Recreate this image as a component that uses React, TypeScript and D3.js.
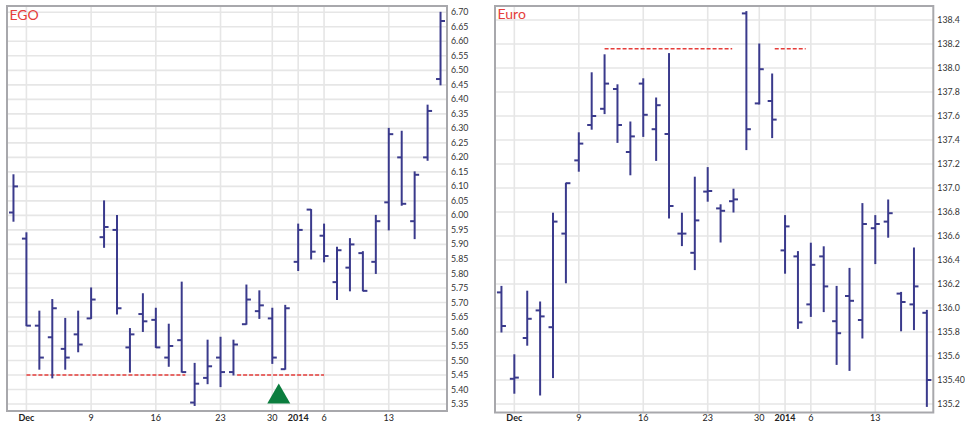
import React from "react";
import * as d3 from "d3";

// trading-day index 0 = Nov 29 ... 33 = Jan 17
const xTickIdx = [1, 6, 11, 16, 20, 22, 24, 29];
const xTickLabels = ["Dec", "9", "16", "23", "30", "2014", "6", "13"];
const boldLabels = ["Dec", "2014"];

const egoOpen = [6.01, 5.92, 5.62, 5.58, 5.54, 5.59, 5.645, 5.925, 5.95, 5.545, 5.66, 5.64, 5.51, 5.57, 5.355, 5.44, 5.51, 5.46, 5.625, 5.67, 5.645, 5.47, 5.84, 6.02, 5.93, 5.77, 5.82, 5.87, 5.84, 6.045, 6.2, 5.98, 6.2, 6.47];
const egoHigh = [6.14, 5.94, 5.67, 5.71, 5.645, 5.67, 5.75, 6.05, 6.0, 5.61, 5.73, 5.68, 5.625, 5.77, 5.49, 5.57, 5.58, 5.57, 5.76, 5.74, 5.68, 5.69, 5.97, 6.02, 5.97, 5.89, 5.92, 5.875, 6.0, 6.3, 6.29, 6.15, 6.38, 6.7];
const egoLow = [5.98, 5.62, 5.47, 5.44, 5.47, 5.53, 5.645, 5.89, 5.66, 5.46, 5.6, 5.545, 5.48, 5.46, 5.345, 5.42, 5.41, 5.45, 5.625, 5.645, 5.49, 5.47, 5.81, 5.85, 5.84, 5.71, 5.74, 5.74, 5.8, 5.95, 6.035, 5.92, 6.19, 6.45];
const egoClose = [6.1, 5.62, 5.51, 5.68, 5.51, 5.555, 5.71, 5.96, 5.68, 5.59, 5.635, 5.545, 5.55, 5.46, 5.42, 5.48, 5.46, 5.555, 5.71, 5.69, 5.51, 5.68, 5.95, 5.875, 5.86, 5.88, 5.9, 5.74, 5.98, 6.28, 6.04, 6.14, 6.36, 6.67];
const egoTicks = ["6.70", "6.65", "6.60", "6.55", "6.50", "6.45", "6.40", "6.35", "6.30", "6.25", "6.20", "6.15", "6.10", "6.05", "6.00", "5.95", "5.90", "5.85", "5.80", "5.75", "5.70", "5.65", "5.60", "5.55", "5.50", "5.45", "5.40", "5.35"];
const egoSupportValue = [5.45, 5.45];
const egoSupportFrom = [1, 17.28];
const egoSupportTo = [13.28, 24];
const egoMarkerIdx = [20.5];

const euroOpen = [136.13, 135.41, 135.75, 135.98, 135.84, 136.62, 137.23, 137.525, 137.66, 137.825, 137.3, 137.87, 137.49, 137.45, 136.62, 136.46, 136.97, 136.83, 136.89, 138.455, 137.705, 137.725, 136.48, 136.43, 136.03, 136.43, 135.89, 136.1, 135.9, 136.665, 136.72, 136.12, 136.03, 135.96];
const euroHigh = [136.18, 135.61, 136.14, 136.05, 136.79, 137.04, 137.46, 137.96, 138.11, 137.86, 137.55, 137.91, 137.75, 138.12, 136.79, 137.09, 137.17, 136.86, 136.99, 138.47, 138.2, 137.95, 136.77, 136.47, 136.54, 136.51, 136.18, 136.33, 136.87, 136.77, 136.9, 136.13, 136.5, 135.98];
const euroLow = [135.8, 135.29, 135.69, 135.275, 135.42, 136.21, 137.14, 137.49, 137.62, 137.38, 137.11, 137.43, 137.23, 136.75, 136.52, 136.32, 136.89, 136.55, 136.8, 137.32, 137.7, 137.42, 136.29, 135.83, 135.93, 135.97, 135.53, 135.48, 135.75, 136.37, 136.59, 135.81, 135.82, 135.18];
const euroClose = [135.85, 135.42, 135.91, 135.93, 136.72, 137.04, 137.37, 137.6, 137.87, 137.525, 137.43, 137.61, 137.69, 136.85, 136.62, 136.73, 136.975, 136.81, 136.905, 137.49, 137.99, 137.57, 136.68, 135.88, 136.36, 136.18, 135.79, 136.06, 136.7, 136.7, 136.79, 136.05, 136.18, 135.4];
const euroTicks = ["138.4", "138.2", "138.0", "137.8", "137.6", "137.4", "137.2", "137.0", "136.8", "136.6", "136.4", "136.2", "136.0", "135.8", "135.6", "135.40", "135.2"];
const euroSupportValue = [138.16, 138.16];
const euroSupportFrom = [8, 21.2];
const euroSupportTo = [17.9, 23.6];
const euroMarkerIdx: number[] = [];

const BAR = "#3a3a8c";
const GRID = "#e6e6e6";
const BORDER = "#a8a8ac";
const RED = "#e53d3a";
const GREEN = "#0b7d3e";
const FONT = "Lato, 'Liberation Sans', Arial, sans-serif";

type PanelProps = {
  title: string;
  left: number; right: number; top: number; bottom: number;
  yDomain: [number, number]; yRange: [number, number];
  ticks: string[];
  open: number[]; high: number[]; low: number[]; close: number[];
  supVal: number[]; supFrom: number[]; supTo: number[];
  markers: number[];
  titleY: number;
};

function Panel(p: PanelProps) {
  const n = p.open.length;
  const x = d3.scaleLinear().domain([-0.5, n - 0.5]).range([p.left, p.right]);
  const y = d3.scaleLinear().domain(p.yDomain).range(p.yRange);
  return (
    <g>
      <rect x={p.left} y={p.top} width={p.right - p.left} height={p.bottom - p.top} fill="#fff" />
      {p.ticks.map((t) => (
        <line key={"h" + t} x1={p.left} x2={p.right} y1={y(+t)} y2={y(+t)} stroke={GRID} strokeWidth={1.6} />
      ))}
      {xTickIdx.map((i) => (
        <line key={"v" + i} x1={x(i)} x2={x(i)} y1={p.top} y2={p.bottom} stroke={GRID} strokeWidth={1.6} />
      ))}
      {p.supVal.map((v, k) => (
        <line key={"s" + k} x1={x(p.supFrom[k])} x2={x(p.supTo[k])} y1={y(v)} y2={y(v)} stroke={RED} strokeWidth={1.5} strokeDasharray="4,2" />
      ))}
      {p.open.map((o, i) => {
        const cx = x(i);
        return (
          <g key={"b" + i} stroke={BAR} strokeWidth={2}>
            <line x1={cx} x2={cx} y1={y(p.high[i]) - 0.5} y2={y(p.low[i]) + 0.5} />
            <line x1={cx - 4.5} x2={cx} y1={y(o)} y2={y(o)} />
            <line x1={cx} x2={cx + 4.5} y1={y(p.close[i])} y2={y(p.close[i])} />
          </g>
        );
      })}
      {p.markers.map((m, k) => {
        const cx = x(m);
        const yb = p.bottom - 7.5;
        return <path key={"m" + k} d={`M${cx - 11.5},${yb}L${cx + 11.5},${yb}L${cx},${yb - 20}Z`} fill={GREEN} />;
      })}
      <rect x={p.left} y={p.top} width={p.right - p.left} height={p.bottom - p.top} fill="none" stroke={BORDER} strokeWidth={2} />
      <text x={p.left + 2.5} y={p.titleY} fill={RED} fontSize={14} fontFamily={FONT}>{p.title}</text>
      {p.ticks.map((t) => (
        <text key={"t" + t} x={p.right + 4} y={y(+t)} dy="0.35em" fontSize={8.8} fill="#333" fontFamily={FONT}>{t}</text>
      ))}
      {xTickIdx.map((i, k) => (
        <text key={"x" + i} x={x(i)} y={421} textAnchor="middle" fontSize={9} fill="#222" fontFamily={FONT}
          fontWeight={boldLabels.includes(xTickLabels[k]) ? 700 : 400}>{xTickLabels[k]}</text>
      ))}
    </g>
  );
}

export default function App() {
  return (
    <div style={{ position: "absolute", left: 0, top: 0, width: 965, height: 427, background: "#fff" }}>
      <svg width={965} height={427} style={{ display: "block" }}>
        <rect width={965} height={427} fill="#fff" />
        <Panel title="EGO" left={7} right={447} top={6} bottom={411}
          yDomain={[5.35, 6.7]} yRange={[404, 12.3]} ticks={egoTicks}
          open={egoOpen} high={egoHigh} low={egoLow} close={egoClose}
          supVal={egoSupportValue} supFrom={egoSupportFrom} supTo={egoSupportTo}
          markers={egoMarkerIdx} titleY={20} />
        <Panel title="Euro" left={495} right={933.3} top={6} bottom={412.5}
          yDomain={[135.2, 138.4]} yRange={[404, 20]} ticks={euroTicks}
          open={euroOpen} high={euroHigh} low={euroLow} close={euroClose}
          supVal={euroSupportValue} supFrom={euroSupportFrom} supTo={euroSupportTo}
          markers={euroMarkerIdx} titleY={19} />
      </svg>
    </div>
  );
}
